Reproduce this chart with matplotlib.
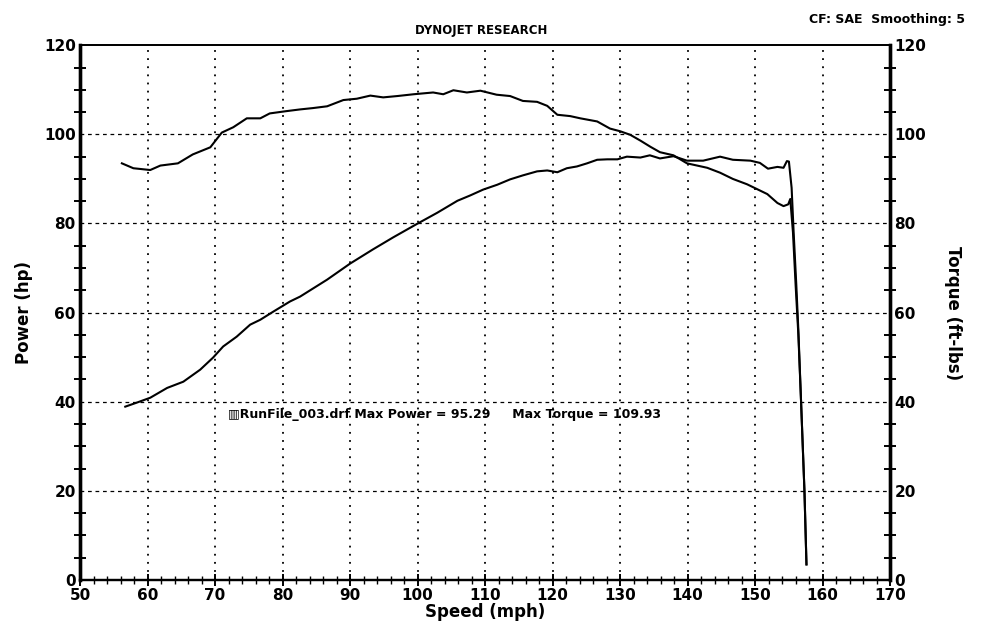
import matplotlib
matplotlib.use('Agg')
import matplotlib.pyplot as plt
from matplotlib.ticker import MultipleLocator

# torque curve (ft-lbs)
speed_t = [56.2, 57.9, 60.4, 61.9, 64.5, 66.7, 69.3, 71.0, 72.7, 74.7, 76.7, 78.1,
           80.5, 82.6, 84.5, 86.6, 89.0, 91.0, 93.0, 94.9, 97.0, 99.4, 102.3, 103.8,
           105.3, 107.3, 109.3, 111.7, 113.7, 115.6, 117.7, 119.2, 120.7, 122.6, 124.1,
           126.6, 128.5, 130.0, 131.5, 133.0, 134.5, 135.9, 137.9, 139.9, 142.9, 144.8,
           146.7, 148.8, 150.3, 151.8, 153.3, 154.2, 154.9, 155.2, 155.6, 156.0, 156.4,
           156.8, 157.3, 157.6]
torque = [93.5, 92.4, 92.0, 93.0, 93.5, 95.5, 97.1, 100.4, 101.6, 103.6, 103.6, 104.7,
          105.2, 105.6, 105.9, 106.3, 107.7, 108.0, 108.7, 108.3, 108.6, 109.0, 109.4, 109.0,
          109.9, 109.4, 109.8, 108.9, 108.6, 107.5, 107.3, 106.4, 104.4, 104.1, 103.6,
          102.9, 101.3, 100.7, 99.9, 98.6, 97.2, 96.0, 95.3, 93.5, 92.5, 91.4,
          90.0, 88.8, 87.7, 86.6, 84.6, 83.9, 84.3, 85.5, 78.0, 66.0, 55.0,
          40.0, 20.0, 3.5]

# power curve (hp)
speed_p = [56.7, 58.4, 60.4, 62.9, 65.3, 67.8, 69.7, 71.2, 73.2, 75.2, 76.7, 78.6,
           81.1, 82.6, 86.6, 90.0, 93.4, 96.4, 99.9, 102.9, 105.9, 107.8, 109.7, 111.8,
           113.7, 115.6, 117.7, 119.2, 120.7, 122.1, 123.6, 125.1, 126.6, 128.1, 129.6,
           131.0, 133.0, 134.4, 135.9, 137.9, 139.9, 142.3, 144.8, 146.7, 149.3, 150.7,
           151.9, 153.3, 154.2, 154.7, 155.0, 155.4, 155.7, 156.1, 156.4, 156.8, 157.3,
           157.6]
power = [38.9, 39.8, 40.9, 43.1, 44.5, 47.2, 49.9, 52.4, 54.6, 57.3, 58.4, 60.2,
         62.5, 63.6, 67.4, 71.0, 74.2, 76.9, 79.9, 82.4, 85.1, 86.3, 87.6, 88.7,
         89.9, 90.8, 91.7, 91.9, 91.5, 92.4, 92.8, 93.5, 94.3, 94.4, 94.4,
         95.0, 94.8, 95.3, 94.6, 95.1, 94.1, 94.1, 95.0, 94.3, 94.1, 93.6,
         92.3, 92.7, 92.5, 94.0, 93.9, 88.0, 78.0, 66.0, 56.0, 40.0, 20.0,
         3.5]

x_ticks = list(range(50, 171, 10))
y_ticks = list(range(0, 121, 20))

plt.rcParams['font.family'] = ['DejaVu Sans']
plt.rcParams['font.weight'] = 'bold'

fig = plt.figure(figsize=(9.88, 6.24), dpi=100)
ax = fig.add_axes([0.081, 0.0705, 0.82, 0.857])
ax2 = ax.twinx()

ax.set_xlim(50, 170)
ax.set_ylim(0, 120)
ax2.set_ylim(0, 120)

# grid: dotted verticals, dashed horizontals
for xv in x_ticks[1:-1]:
    ax.axvline(xv, color='black', lw=1.3, ls=(0, (1, 3.5)), zorder=1)
for yv in y_ticks[1:-1]:
    ax.axhline(yv, color='black', lw=0.9, ls=(0, (3, 3)), zorder=1)

ax.plot(speed_p, power, color='black', lw=1.5, zorder=3)
ax2.plot(speed_t, torque, color='black', lw=1.5, zorder=3)

ax.set_xticks(x_ticks)
ax.set_yticks(y_ticks)
ax2.set_yticks(y_ticks)
ax.xaxis.set_minor_locator(MultipleLocator(2))
ax.yaxis.set_minor_locator(MultipleLocator(5))
ax2.yaxis.set_minor_locator(MultipleLocator(5))

ax.tick_params(axis='x', which='major', direction='inout', length=9, width=1.4,
               labelsize=11, pad=1)
ax.tick_params(axis='x', which='minor', direction='inout', length=6, width=1.0)
ax.tick_params(axis='y', which='major', direction='inout', length=0, labelsize=11, pad=3)
ax.tick_params(axis='y', which='minor', direction='inout', length=8, width=1.4)
ax2.tick_params(axis='y', which='major', direction='inout', length=0, labelsize=11, pad=3)
ax2.tick_params(axis='y', which='minor', direction='inout', length=8, width=1.4)

for a in (ax, ax2):
    a.spines['top'].set_linewidth(1.3)
    a.spines['bottom'].set_linewidth(1.6)
    a.spines['left'].set_linewidth(2.4)
    a.spines['right'].set_linewidth(2.4)

ax.set_xlabel('Speed (mph)', fontsize=12, fontweight='bold', labelpad=0)
ax.set_ylabel('Power (hp)', fontsize=12, fontweight='bold', labelpad=8)
ax2.set_ylabel('Torque (ft-lbs)', fontsize=12, fontweight='bold', rotation=270, labelpad=26)

fig.text(0.487, 0.951, 'DYNOJET RESEARCH', ha='center', va='center', fontsize=8.5,
         fontweight='bold')
fig.text(0.977, 0.968, 'CF: SAE  Smoothing: 5', ha='right', va='center', fontsize=9,
         fontweight='bold')

ax.text(71.9, 37.2, '\u25A5RunFile_003.drf Max Power = 95.29     Max Torque = 109.93',
        fontsize=9, fontweight='bold', va='center', ha='left', zorder=4)

fig.savefig('out.png', dpi=100)
